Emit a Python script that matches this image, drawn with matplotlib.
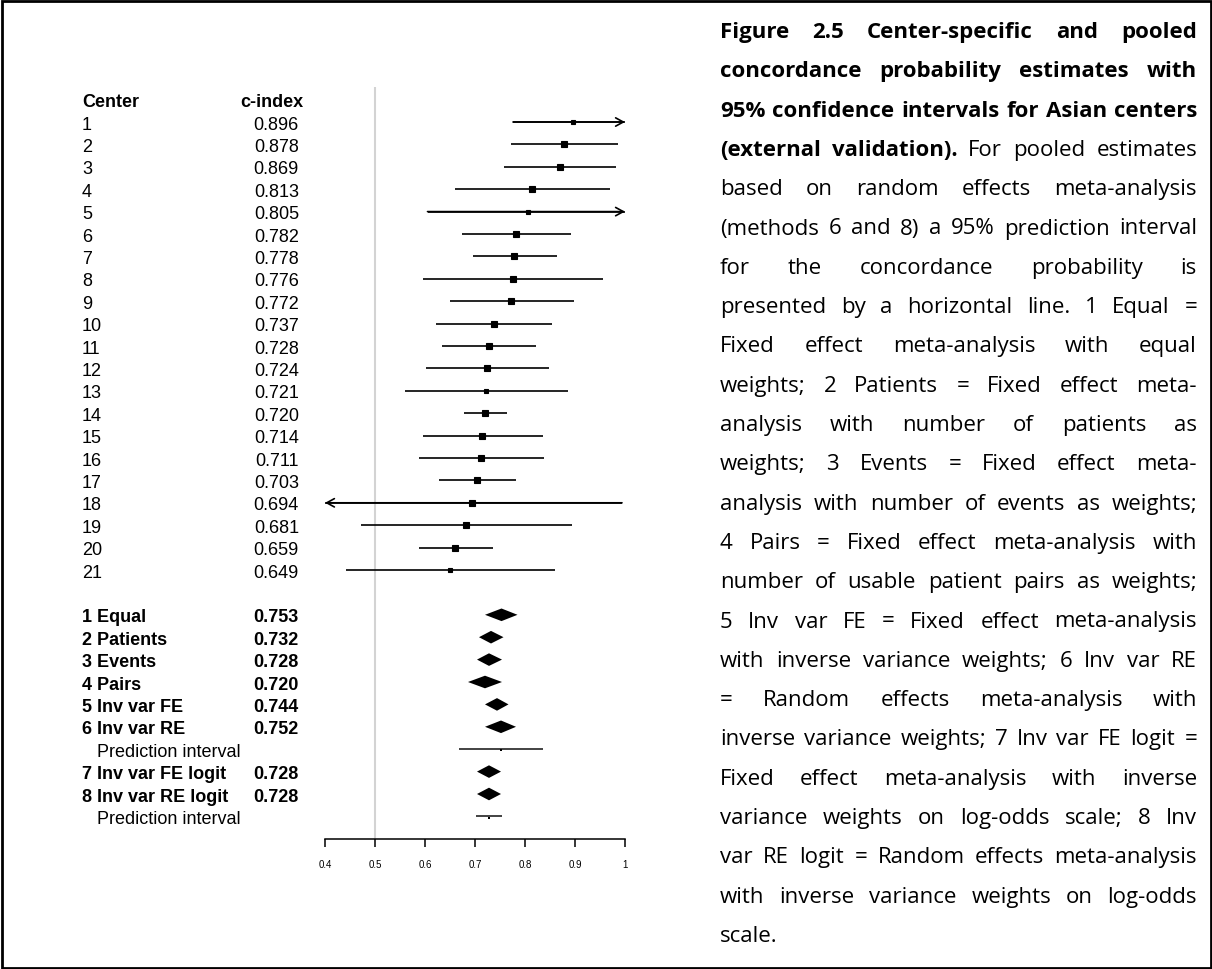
import matplotlib
matplotlib.use('Agg')
import matplotlib.pyplot as plt
from matplotlib.patches import Rectangle

# ---- data ----
centers = [str(i) for i in range(1, 22)]
cindex = [0.896, 0.878, 0.869, 0.813, 0.805, 0.782, 0.778, 0.776, 0.772, 0.737, 0.728,
          0.724, 0.721, 0.720, 0.714, 0.711, 0.703, 0.694, 0.681, 0.659, 0.649]
ci_lo = [0.776, 0.771, 0.758, 0.659, 0.605, 0.674, 0.696, 0.596, 0.649, 0.621, 0.634,
         0.602, 0.559, 0.677, 0.596, 0.587, 0.627, 0.380, 0.471, 0.587, 0.441]
ci_hi = [1.020, 0.985, 0.981, 0.969, 1.020, 0.891, 0.863, 0.956, 0.897, 0.853, 0.822,
         0.847, 0.885, 0.763, 0.835, 0.838, 0.782, 0.994, 0.894, 0.735, 0.860]
box_size = [4.7, 6.0, 6.0, 5.3, 5.0, 5.7, 6.0, 6.0, 5.3, 6.0, 6.0,
            5.3, 4.7, 5.3, 5.3, 6.0, 6.0, 6.0, 5.3, 6.3, 4.3]   # relative weights (px)

pooled_labels = ['1 Equal', '2 Patients', '3 Events', '4 Pairs', '5 Inv var FE',
                 '6 Inv var RE', '7 Inv var FE logit', '8 Inv var RE logit']
pooled_est = [0.753, 0.732, 0.728, 0.720, 0.744, 0.752, 0.728, 0.728]
pooled_lo = [0.720, 0.708, 0.704, 0.686, 0.720, 0.720, 0.704, 0.704]
pooled_hi = [0.785, 0.757, 0.754, 0.754, 0.767, 0.782, 0.752, 0.752]

# prediction intervals follow methods 6 and 8
pi_after = [5, 7]
pi_lo = [0.667, 0.702]
pi_hi = [0.835, 0.754]

xticks = [0.4, 0.5, 0.6, 0.7, 0.8, 0.9, 1.0]
xtick_labels = ['0.4', '0.5', '0.6', '0.7', '0.8', '0.9', '1']

caption = [
    "Figure 2.5 Center-specific and pooled",
    "concordance probability estimates with",
    "95% confidence intervals for Asian centers",
    "(external validation). For pooled estimates",
    "based on random effects meta-analysis",
    "(methods 6 and 8) a 95% prediction interval",
    "for the concordance probability is",
    "presented by a horizontal line. 1 Equal =",
    "Fixed effect meta-analysis with equal",
    "weights; 2 Patients = Fixed effect meta-",
    "analysis with number of patients as",
    "weights; 3 Events = Fixed effect meta-",
    "analysis with number of events as weights;",
    "4 Pairs = Fixed effect meta-analysis with",
    "number of usable patient pairs as weights;",
    "5 Inv var FE = Fixed effect meta-analysis",
    "with inverse variance weights; 6 Inv var RE",
    "= Random effects meta-analysis with",
    "inverse variance weights; 7 Inv var FE logit =",
    "Fixed effect meta-analysis with inverse",
    "variance weights on log-odds scale; 8 Inv",
    "var RE logit = Random effects meta-analysis",
    "with inverse variance weights on log-odds",
    "scale.",
]
caption_bold_words = [5, 5, 6, 2]   # number of bold words at the start of the first lines

# ---- figure ----
W, H = 1212, 970
fig = plt.figure(figsize=(W / 100, H / 100), dpi=100)
fig.patch.set_facecolor('white')

# layout helpers (pixel -> data units)
ROW_PX = 22.4
ROW1_PX = 123


def px2val(px):
    return 0.4 + (px - 325) / 500.0


def px2row(py):
    return 1 + (py - ROW1_PX) / ROW_PX


ax = fig.add_axes([0, 0, 690 / W, 1])
ax.set_xlim(px2val(0), px2val(690))
ax.set_ylim(px2row(H), px2row(0))
ax.patch.set_alpha(0)
for s in ['top', 'left', 'right']:
    ax.spines[s].set_visible(False)
axis_row = 33
ax.spines['bottom'].set_position(('data', axis_row))
ax.spines['bottom'].set_bounds(xticks[0], xticks[-1])
ax.spines['bottom'].set_linewidth(1.1)
ax.set_yticks([])
ax.set_xticks(xticks)
ax.set_xticklabels(xtick_labels, fontsize=7, family='Liberation Sans')
ax.tick_params(axis='x', direction='out', length=5.8, width=1.1, pad=9)

# reference line at 0.5
ax.vlines(0.5, px2row(88), axis_row, color='#d3d3d3', lw=1.5, zorder=1)

font = 'Liberation Sans'
fs = 13
x_lab = px2val(82)
x_val = px2val(299)

ax.text(x_lab, 0, 'Center', fontsize=fs, family=font, weight='bold', va='center_baseline')
ax.text(px2val(240), 0, 'c-index', fontsize=fs, family=font, weight='bold', va='center_baseline')

arrow = dict(arrowstyle='->,head_length=0.55,head_width=0.3', lw=1.2, color='black',
             shrinkA=0, shrinkB=0)

# center-specific estimates
for i, (lab, est, lo, hi, bs) in enumerate(zip(centers, cindex, ci_lo, ci_hi, box_size)):
    r = i + 1
    ax.text(x_lab, r, lab, fontsize=fs, family=font, va='center_baseline')
    ax.text(x_val, r, f'{est:.3f}', fontsize=fs, family=font, va='center_baseline', ha='right')
    left = max(lo, xticks[0])
    right = min(hi, xticks[-1])
    ax.hlines(r, left, right, color='black', lw=1.2, zorder=2)
    if hi > xticks[-1]:
        ax.annotate('', xy=(xticks[-1], r), xytext=(left, r), arrowprops=arrow)
    if lo < xticks[0]:
        ax.annotate('', xy=(xticks[0], r), xytext=(right, r), arrowprops=arrow)
    ax.plot(est, r, 's', ms=bs * 0.72, color='black', mec='black', mew=0.8, zorder=3)

# pooled estimates
r = len(centers) + 2
half_h = 6.3 / ROW_PX
for k, (lab, est, lo, hi) in enumerate(zip(pooled_labels, pooled_est, pooled_lo, pooled_hi)):
    ax.text(x_lab, r, lab, fontsize=fs, family=font, weight='bold', va='center_baseline')
    ax.text(x_val, r, f'{est:.3f}', fontsize=fs, family=font, weight='bold',
            va='center_baseline', ha='right')
    ax.fill([lo, est, hi, est], [r, r - half_h, r, r + half_h], color='black', lw=0, zorder=3)
    r += 1
    if k in pi_after:
        j = pi_after.index(k)
        ax.text(px2val(97), r, 'Prediction interval', fontsize=fs, family=font,
                va='center_baseline')
        ax.hlines(r, pi_lo[j], pi_hi[j], color='#222222', lw=1.2, zorder=2)
        ax.plot(est, r + 0.05, 's', ms=1.8, color='black', mew=0, zorder=3)
        r += 1

# ---- justified caption on the right ----
cap_font = 'Open Sans'
cap_fs = 16
x0, x1 = 720, 1197
base0, line_gap = 38, 39.3
renderer = fig.canvas.get_renderer()

lines_words = [ln.split(' ') for ln in caption]
bold_flags = []
for i, words in enumerate(lines_words):
    nb = caption_bold_words[i] if i < len(caption_bold_words) else 0
    bold_flags.append([j < nb for j in range(len(words))])

for i, (words, bolds) in enumerate(zip(lines_words, bold_flags)):
    y = base0 + i * line_gap
    texts = [fig.text(0, 0, w, fontsize=cap_fs, family=cap_font,
                      weight='bold' if b else 'normal', va='baseline', ha='left')
             for w, b in zip(words, bolds)]
    widths = [t.get_window_extent(renderer).width for t in texts]
    last = i == len(lines_words) - 1
    if last or len(words) == 1:
        gap = cap_fs * 0.26 * 100 / 72
    else:
        gap = (x1 - x0 - sum(widths)) / (len(words) - 1)
    x = x0
    for t, w in zip(texts, widths):
        t.set_position((x / W, 1 - y / H))
        x += w + gap

# outer frame
fig.patches.append(Rectangle((1.5 / W, 1.5 / H), 1 - 3 / W, 1 - 3 / H, transform=fig.transFigure,
                             fill=False, edgecolor='black', lw=2.0))

fig.savefig('out.png', dpi=100)
